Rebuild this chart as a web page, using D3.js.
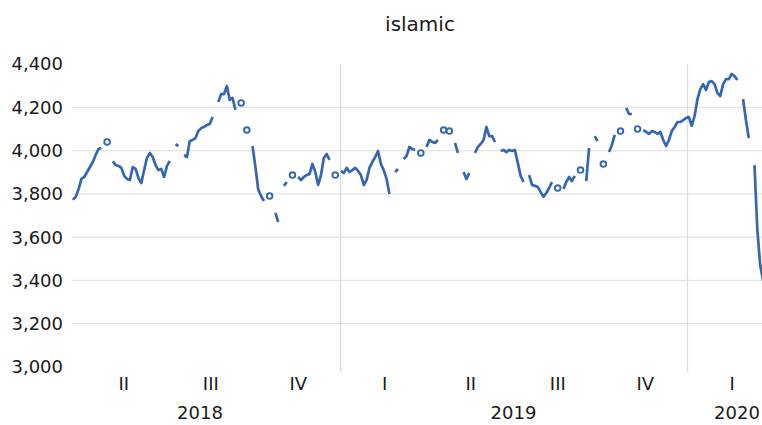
<!DOCTYPE html>
<html>
<head>
<meta charset="utf-8">
<script src="https://cdn.jsdelivr.net/npm/d3@7"></script>
<style>
  body { margin: 0; background: #fff; }
  #chart { width: 762px; height: 425px; }
  text { font-family: "DejaVu Sans", sans-serif; fill: #1a1a1a; }
</style>
</head>
<body>
<div id="chart"></div>
<script>
// Données (une valeur tous les 3 jours, null = pas de cotation)
const chartTitle = "islamic"
const startDate = "2018-03-26"
const stepDays = 3
const values = [
  3772, 3786, 3822, 3869, 3878, 3901, 3924, 3947, 3980, 4007,
  4012, null, 4040, null, 3950, 3933, 3929, 3920, 3883, 3869,
  3864, 3924, 3915, 3873, 3850, 3910, 3966, 3989, 3970, 3933,
  3910, 3915, 3878, 3929, 3952, null, 4030, 4021, null, 3980,
  3970, 4044, 4049, 4058, 4090, 4104, 4109, 4118, 4123, 4155,
  null, 4225, 4261, 4261, 4298, 4234, 4243, 4188, null, 4220,
  null, 4095, null, 4021, 3925, 3820, 3790, 3767, null, 3790,
  null, 3712, 3670, null, 3837, 3855, null, 3887, null, 3878,
  3864, 3878, 3887, 3892, 3938, 3901, 3841, 3887, 3966, 3984,
  3957, null, 3887, null, 3906, 3896, 3920, 3901, 3910, 3920,
  3906, 3887, 3841, 3864, 3920, 3947, 3970, 3998, 3938, 3910,
  3869, 3799, null, 3901, 3915, null, 3961, 3975, 4017, 4007,
  4003, null, 3989, null, 4017, 4049, 4040, 4035, 4049, null,
  4095, null, 4090, null, 4035, 3989, null, 3901, 3869, 3896,
  null, 3989, 4017, 4030, 4049, 4109, 4067, 4067, 4040, null,
  3998, 4003, 3993, 4003, 3998, 4003, 3943, 3883, 3855, null,
  3887, 3841, 3837, 3832, 3809, 3786, 3804, 3827, 3855, null,
  3827, null, 3823, 3855, 3878, 3859, 3883, null, 3910, null,
  3859, 4012, null, 4067, 4044, null, 3938, null, 3993, 4026,
  4072, null, 4090, null, 4197, 4169, 4169, null, 4100, null,
  4095, 4086, 4077, 4090, 4086, 4077, 4086, 4049, 4021, 4049,
  4090, 4109, 4132, 4132, 4141, 4150, 4155, 4114, 4160, 4238,
  4284, 4307, 4280, 4317, 4321, 4307, 4266, 4252, 4307, 4330,
  4330, 4354, 4344, 4326, null, 4238, 4141, 4058, null, 3933,
  3633, 3470, 3400
]
const yTicks = [3000, 3200, 3400, 3600, 3800, 4000, 4200, 4400]
const quarterNames = ["I", "II", "III", "IV"]
const years = [2018, 2019, 2020]

const width = 762
const height = 425
const blue = "#3566b3"

// Crée le svg
const svg = d3.select("#chart")
    .append("svg")
    .attr("width", width)
    .attr("height", height)

const start = d3.timeParse("%Y-%m-%d")(startDate)
const data = values.map((v, i) => ({ date: d3.timeDay.offset(start, i * stepDays), value: v }))

// Echelles
const x = d3.scaleTime()
    .domain([new Date(2019, 0, 1), new Date(2020, 0, 1)])
    .range([340, 687])
const axisStart = x.invert(60)
const axisEnd = x.invert(787)
const y = d3.scaleLinear().domain([3000, 4400]).range([367, 64])

// Titre
svg.append("text")
    .attr("x", 420)
    .attr("y", 31)
    .attr("text-anchor", "middle")
    .style("font-size", "20px")
    .text(chartTitle)

// Grille horizontale
svg.append("g")
    .selectAll("line")
    .data(yTicks.filter(t => t > 3000 && t < 4400))
    .enter()
    .append("line")
    .attr("x1", 72)
    .attr("x2", width)
    .attr("y1", d => y(d))
    .attr("y2", d => y(d))
    .style("stroke", "#e4e4e4")
    .style("stroke-width", 1.3)

// Séparateurs d'années
svg.append("g")
    .selectAll("line")
    .data(years.map(yr => new Date(yr, 0, 1)).filter(d => d > axisStart && d < axisEnd))
    .enter()
    .append("line")
    .attr("x1", d => Math.round(x(d)) + 0.5)
    .attr("x2", d => Math.round(x(d)) + 0.5)
    .attr("y1", 64)
    .attr("y2", 372)
    .style("stroke", "#dcdcdc")
    .style("stroke-width", 1.3)

// Etiquettes axe Y
svg.append("g")
    .selectAll("text")
    .data(yTicks)
    .enter()
    .append("text")
    .attr("x", 63)
    .attr("y", d => y(d))
    .attr("dy", "0.36em")
    .attr("text-anchor", "end")
    .style("font-size", "18px")
    .text(d => d3.format(",")(d))

// Etiquettes trimestres
const quarters = d3.timeMonth.every(3).range(new Date(2018, 0, 1), axisEnd)
    .map(q => ({ start: q, end: d3.timeMonth.offset(q, 3) }))
    .filter(q => q.start >= axisStart && x(new Date((+q.start + +q.end) / 2)) < width)
svg.append("g")
    .selectAll("text")
    .data(quarters)
    .enter()
    .append("text")
    .attr("x", d => x(new Date((+d.start + +d.end) / 2)) + 2)
    .attr("y", 384)
    .attr("dy", "0.36em")
    .attr("text-anchor", "middle")
    .style("font-size", "18px")
    .text(d => quarterNames[Math.floor(d.start.getMonth() / 3)])

// Etiquettes années
svg.append("g")
    .selectAll("text")
    .data(years)
    .enter()
    .append("text")
    .attr("x", yr => {
        const a = Math.max(x(new Date(yr, 0, 1)), x(axisStart))
        const b = Math.min(x(new Date(yr + 1, 0, 1)), x(axisEnd))
        return (a + b) / 2
    })
    .attr("y", 413)
    .attr("dy", "0.36em")
    .attr("text-anchor", "middle")
    .style("font-size", "18px")
    .text(yr => yr)

// Courbe
const line = d3.line()
    .defined(d => d.value != null)
    .x(d => x(d.date))
    .y(d => y(d.value))

svg.append("path")
    .datum(data)
    .attr("d", line)
    .style("fill", "none")
    .style("stroke", blue)
    .style("stroke-width", 2.7)
    .style("stroke-linejoin", "round")

// Points isolés
const isolated = data.filter((d, i) => d.value != null
    && (i === 0 || data[i - 1].value == null)
    && (i === data.length - 1 || data[i + 1].value == null))
svg.append("g")
    .selectAll("circle")
    .data(isolated)
    .enter()
    .append("circle")
    .attr("cx", d => x(d.date))
    .attr("cy", d => y(d.value))
    .attr("r", 2.8)
    .style("fill", "#fff")
    .style("stroke", blue)
    .style("stroke-width", 1.9)
</script>
</body>
</html>
